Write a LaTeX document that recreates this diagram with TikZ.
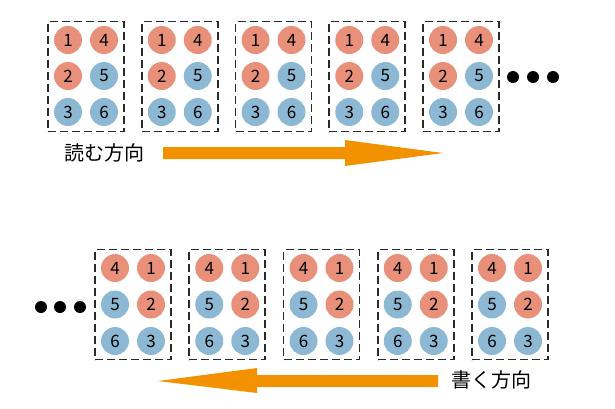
\documentclass[tikz,border=0pt]{standalone}
\usepackage{fontspec}
\setmainfont{Noto Sans CJK JP}
\definecolor{salmon}{HTML}{E8907A}
\definecolor{skyb}{HTML}{8DB8D3}
\definecolor{arrowor}{HTML}{F39200}
\definecolor{boxgray}{HTML}{2A2A2A}
\tikzset{
  dot/.style={circle,minimum size=28pt,inner sep=0pt,font=\fontsize{17}{17}\selectfont},
  red dot/.style={dot,fill=salmon},
  blue dot/.style={dot,fill=skyb},
  cellbox/.style={draw=boxgray,line width=1.6pt,dash pattern=on 8pt off 4pt,minimum width=76pt,minimum height=110pt,inner sep=0pt},
  blackdot/.style={circle,fill=black,minimum size=12pt,inner sep=0pt},
  dirlabel/.style={font=\fontsize{20}{20}\selectfont,inner sep=0pt},
  bigarrow/.style={fill=arrowor,draw=none}
}
\begin{document}
\begin{tikzpicture}[x=1pt,y=-1pt]
\useasboundingbox (0,0) rectangle (615,408);
% top row
\foreach \i in {0,...,4}{
  \pgfmathsetmacro{\cx}{86+93.75*\i}
  \node[cellbox] (tb\i) at (\cx,76.5) {};
  \node[red dot]  (t\i a) at (\cx-18,40) {1};
  \node[red dot]  (t\i d) at (\cx+18,40) {4};
  \node[red dot]  (t\i b) at (\cx-18,76) {2};
  \node[blue dot] (t\i e) at (\cx+18,76) {5};
  \node[blue dot] (t\i c) at (\cx-18,112) {3};
  \node[blue dot] (t\i f) at (\cx+18,112) {6};
}
\node[blackdot] (td1) at (513,77) {};
\node[blackdot] (td2) at (533,77) {};
\node[blackdot] (td3) at (553,77) {};
\node[dirlabel] (readlbl) at (104,153) {読む方向};
\fill[bigarrow] (163,147) -- (345,147) -- (345,140) -- (443,153) -- (345,166) -- (345,159) -- (163,159) -- cycle;
% bottom row
\foreach \i in {0,...,4}{
  \pgfmathsetmacro{\cx}{133+94.25*\i}
  \node[cellbox] (bb\i) at (\cx,304.5) {};
  \node[red dot]  (b\i d) at (\cx-18,268) {4};
  \node[red dot]  (b\i a) at (\cx+18,268) {1};
  \node[blue dot] (b\i e) at (\cx-18,304.5) {5};
  \node[red dot]  (b\i b) at (\cx+18,304.5) {2};
  \node[blue dot] (b\i f) at (\cx-18,341) {6};
  \node[blue dot] (b\i c) at (\cx+18,341) {3};
}
\node[blackdot] (bd1) at (41,307) {};
\node[blackdot] (bd2) at (60,307) {};
\node[blackdot] (bd3) at (80,307) {};
\node[dirlabel] (writelbl) at (491,380) {書く方向};
\fill[bigarrow] (438,375) -- (257,375) -- (257,368) -- (158,381) -- (257,393) -- (257,387) -- (438,387) -- cycle;
\end{tikzpicture}
\end{document}
